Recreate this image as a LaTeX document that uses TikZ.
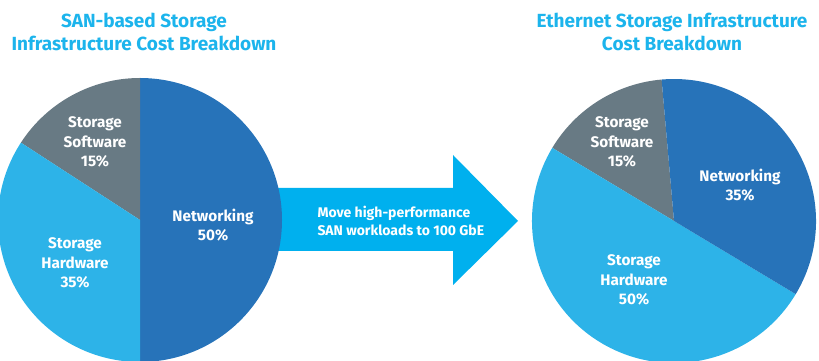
\documentclass[tikz,border=0pt]{standalone}
\usepackage{fontspec}
\setmainfont{Fira Sans}
\usepackage{tikz}
\definecolor{netblue}{HTML}{2773B9}
\definecolor{hwblue}{HTML}{2DB3E8}
\definecolor{swgray}{HTML}{687A84}
\definecolor{arrowblue}{HTML}{00B0EE}
\definecolor{titleblue}{HTML}{1CB4EC}

\begin{document}
\begin{tikzpicture}[x=1pt,y=1pt,
    slicelabel/.style={text=white,font=\bfseries\fontsize{15.3}{19.2}\selectfont,align=center},
    charttitle/.style={text=titleblue,font=\bfseries\fontsize{19}{23}\selectfont,align=center},
    arrowtext/.style={text=white,font=\bfseries\fontsize{14}{18.5}\selectfont,align=left}]
   			\useasboundingbox (0,0) rectangle (819,361);
   			\coordinate (L) at (140,141);
   			\coordinate (R) at (674,140);
   			\coordinate (s1) at (200,173);
   			\coordinate (s2) at (453,173);
   			\coordinate (h1) at (453,206);
   			\coordinate (tip) at (518,140);
   			\coordinate (h2) at (453,76);
   			\coordinate (s3) at (453,110);
   			\coordinate (s4) at (200,110);

   			\fill[arrowblue] (s1) -- (s2) -- (h1) -- (tip) -- (h2) -- (s3) -- (s4) -- cycle;
   			\foreach \c/\a/\b/\col in {
   				L/-90/90/netblue,
   				L/90/147/swgray,
   				L/147/270/hwblue,
   				R/95/149/swgray,
   				R/149/329/hwblue,
   				R/-31/95/netblue}{
   				\fill[\col] (\c) -- ++(\a:142) arc (\a:\b:142) -- cycle;
   			}
   			\foreach \name/\x/\y/\txt in {
   				lsw/95/219/{Storage\\Software\\15\%},
   				lhw/75/98/{Storage\\Hardware\\35\%},
   				lnet/213/136/{Networking\\50\%},
   				rsw/622/219/{Storage\\Software\\15\%},
   				rnet/740/175.5/{Networking\\35\%},
   				rhw/634/81/{Storage\\Hardware\\50\%}}{
   				\node (\name) [slicelabel] at (\x,\y) {\txt};
   			}
   			\node (ltitle) [charttitle] at (144,329.5) {SAN-based Storage\\Infrastructure Cost Breakdown};
   			\node (rtitle) [charttitle] at (672,329.5) {Ethernet Storage Infrastructure\\Cost Breakdown};
   			\node (move) [arrowtext, anchor=west] at (314,140) {Move high-performance\\SAN workloads to 100 GbE};
   		\end{tikzpicture}
\end{document}
